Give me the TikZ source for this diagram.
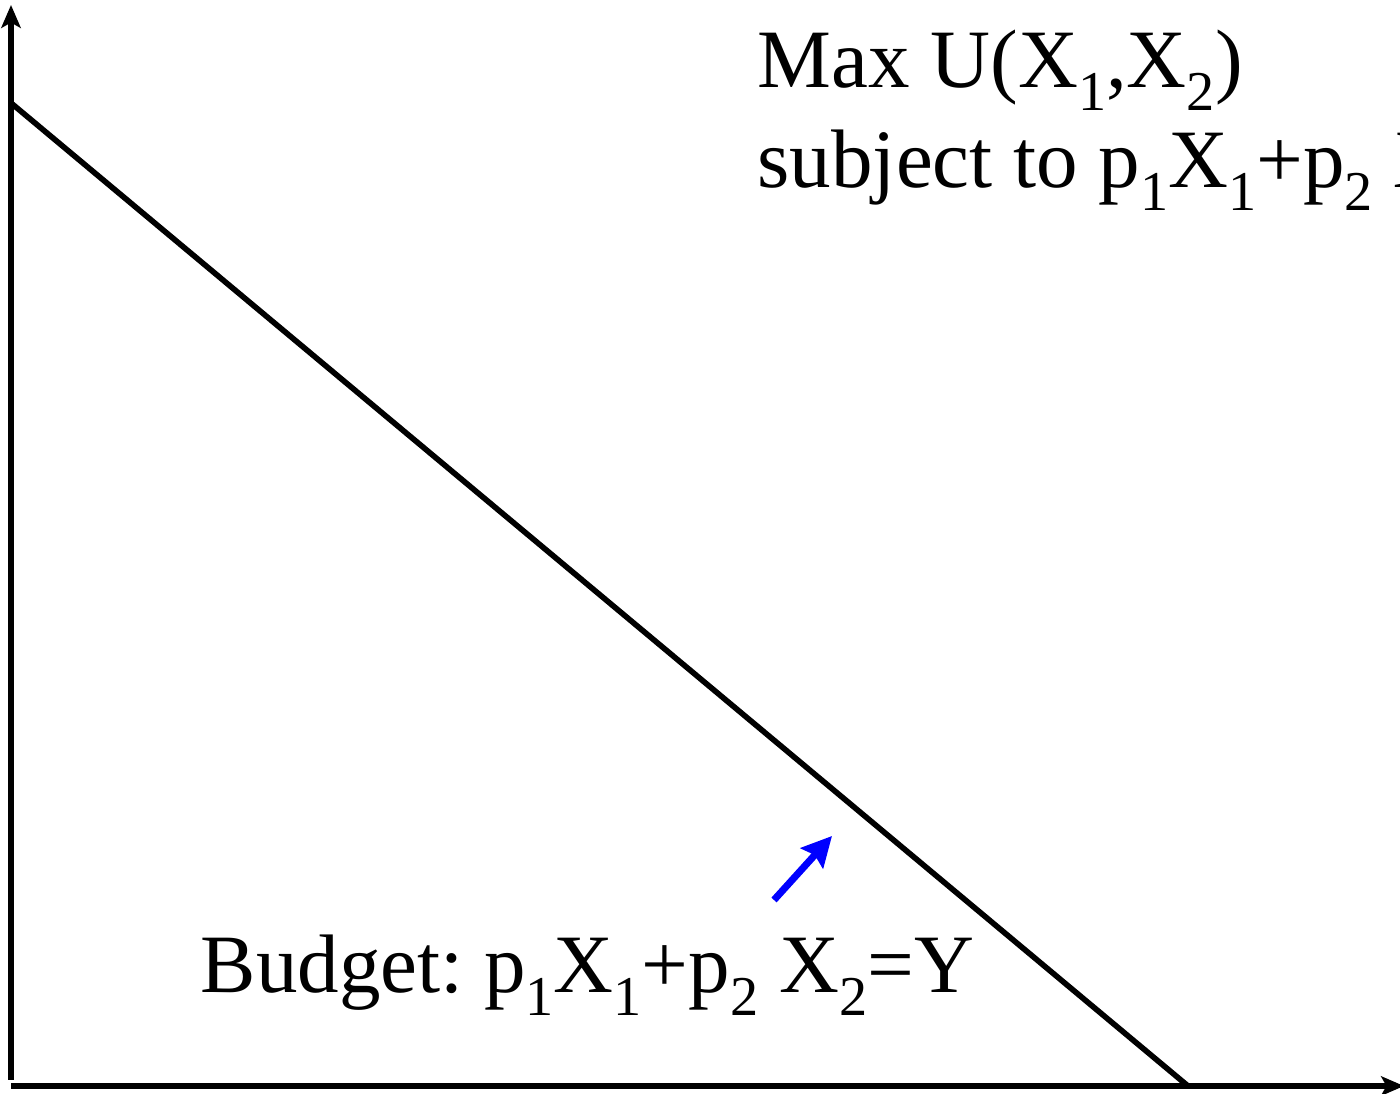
\documentclass[tikz,border=0pt]{standalone}
\usepackage{fontspec}
\setmainfont{Liberation Serif}
\usepackage{tikz}
\usetikzlibrary{arrows}
\usetikzlibrary{arrows.meta}
\frenchspacing

\newcommand{\lowidx}[1]{\raisebox{-0.6ex}{\fontsize{16pt}{16pt}\selectfont #1}}

\tikzset{
  axis/.style={line width=1.6pt,-{Stealth[length=6.5pt,width=5.5pt,inset=1.5pt]}},
  budgetline/.style={line width=1.6pt},
  pointer/.style={blue,line width=2pt,-{Stealth[length=8.5pt,width=8.5pt,inset=1.2pt]}},
  label/.style={inner sep=0pt,anchor=base west,font=\fontsize{23.6pt}{28.4pt}\selectfont}
}

\begin{document}
\begin{tikzpicture}[x=0.01cm,y=0.01cm]
        \useasboundingbox (0,0) rectangle (1400,1094);
        \clip (0,0) rectangle (1400,1094);
        % axes
        \coordinate (ybot) at (11,14);
        \coordinate (ytop) at (11,1089);
        \coordinate (xleft) at (11,8);
        \coordinate (xright) at (1404,8);
        \draw[axis] (ybot) -- (ytop);
        \draw[axis] (xleft) -- (xright);
        % budget line
        \coordinate (bstart) at (11,991);
        \coordinate (bend) at (1188,8);
        \draw[budgetline] (bstart) -- (bend);
        % labels
        \node[label] (maxu) at (757,1006) {Max U(X\lowidx{1},X\lowidx{2})};
        \node[label] (subj) at (757,906) {subject to p\lowidx{1}X\lowidx{1}+p\lowidx{2} X\lowidx{2}=Y};
        \node[label] (budget) at (200,101) {Budget: p\lowidx{1}X\lowidx{1}+p\lowidx{2} X\lowidx{2}=Y};
        % pointer to the line
        \coordinate (ptail) at (774,194);
        \coordinate (phead) at (832,258);
        \draw[pointer] (ptail) -- (phead);
    \end{tikzpicture}
\end{document}
